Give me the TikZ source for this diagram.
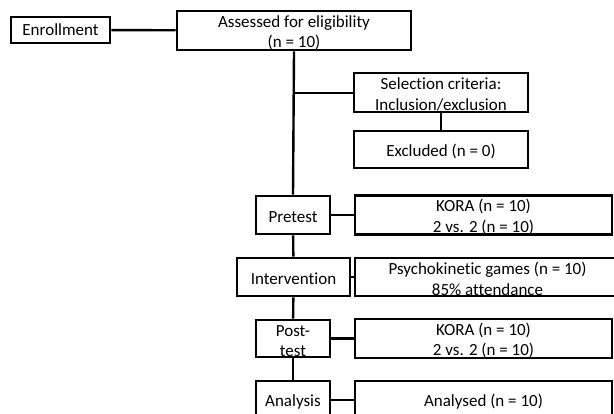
\documentclass[tikz,border=0pt]{standalone}
\usepackage{fontspec}
\setmainfont{Carlito}[Ligatures=CommonOff]
\newcommand\toppad{\rule{0pt}{16pt}}
\begin{document}
\begin{tikzpicture}[x=1pt,y=-1pt,
  box/.style={draw,line width=2.8pt,inner sep=0pt,align=center,
    font=\fontsize{17}{20.5}\selectfont},
  conn/.style={line width=2.4pt},
  thin/.style={line width=1.2pt}]
\useasboundingbox (0,0) rectangle (614,413);
\clip (0,0) rectangle (614,413);
\node[box,minimum width=99pt,minimum height=26pt] (enroll) at (60.5,30) {Enrollment};
\node[box,minimum width=234pt,minimum height=39pt] (assess) at (294,30.5) {\toppad Assessed for eligibility\\(n = 10)};
\node[box,minimum width=174pt,minimum height=39pt] (select) at (441,92.5) {\toppad Selection criteria:\\Inclusion/exclusion};
\node[box,minimum width=174pt,minimum height=37pt] (excl) at (441,149.5) {\toppad Excluded (n = 0)};
\node[box,minimum width=74pt,minimum height=38pt] (pre) at (293,215) {\toppad Pretest};
\node[box,minimum width=257pt,minimum height=38pt] (kora1) at (483.5,215) {\toppad KORA (n = 10)\\2 vs. 2 (n = 10)};
\node[box,minimum width=113pt,minimum height=38pt] (interv) at (293.5,277) {\toppad Intervention};
\node[box,minimum width=265pt,minimum height=38pt] (psy) at (487.5,277) {\toppad Psychokinetic games (n = 10)\\85\% attendance};
\node[box,minimum width=74pt,minimum height=37pt] (post) at (293,338.5) {\toppad Post-\\test};
\node[box,minimum width=257pt,minimum height=37pt] (kora2) at (483.5,338.5) {\toppad KORA (n = 10)\\2 vs. 2 (n = 10)};
\node[box,minimum width=74pt,minimum height=38pt] (anal) at (293,400) {\toppad Analysis};
\node[box,minimum width=257pt,minimum height=38pt] (analysed) at (483.5,400) {\toppad Analysed (n = 10)};
\coordinate (br) at (294,93);
\draw[conn] (enroll) -- (assess);
\draw[conn] (assess.south) -- (pre.north);
\draw[conn] (br) -- (br -| select.west);
\draw[conn] (select) -- (excl);
\draw[thin] (pre) -- (kora1);
\draw[thin] (interv) -- (psy);
\draw[conn] (pre) -- (interv);
\draw[conn] (interv) -- (post);
\draw[conn] (post) -- (kora2);
\draw[conn] (post) -- (anal);
\draw[conn] (anal) -- (analysed);
\end{tikzpicture}
\end{document}
